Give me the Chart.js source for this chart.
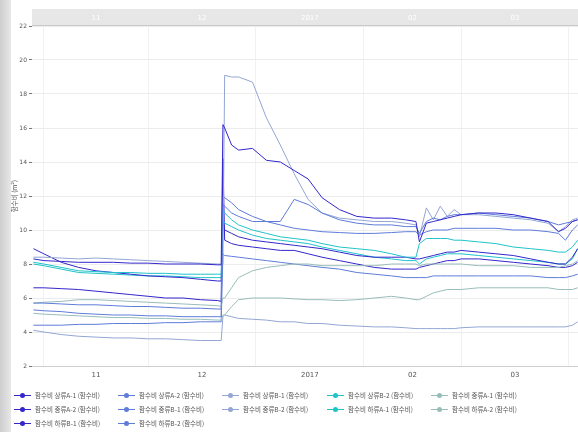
<!DOCTYPE html>
<html>
<head>
<meta charset="utf-8">
<script src="https://cdn.jsdelivr.net/npm/chart.js@4.4.0/dist/chart.umd.min.js"></script>
<style>
    body { margin: 0; background: #fff; }
    #wrap { position: relative; width: 578px; height: 432px; overflow: hidden; background: #fff; }
    #strip { position: absolute; left: 0; top: 0; width: 11px; height: 432px; background: linear-gradient(to right, #cdcdcd, #e8e8e8); }
    #chart { position: absolute; left: 0; top: 0; }
    #legend { position: absolute; left: 0; top: 0; width: 578px; height: 432px; font: 6.5px "Noto Sans CJK KR", sans-serif; color: #555; }
    .item { position: absolute; height: 10px; line-height: 10px; white-space: nowrap; }
    .mark { display: inline-block; position: relative; width: 17px; height: 10px; vertical-align: top; margin-right: 4px; }
    .mark i { position: absolute; left: 0; top: 4.5px; width: 17px; height: 1px; }
    .mark b { position: absolute; left: 6px; top: 2.5px; width: 5px; height: 5px; border-radius: 50%; }
</style>
</head>
<body>
<div id="wrap">
    <div id="strip"></div>
    <canvas id="chart" width="578" height="385"></canvas>
    <div id="legend"></div>
</div>
<script>
// == Data ==
// days counted from 1 Nov 2016
const days = [-3, 0, 5, 10, 15, 20, 25, 30, 35, 40, 45, 50, 51,
    51.5,
    52, 54, 56, 60, 64, 68, 72, 76, 80, 85, 90, 95, 100, 104, 107,
    108, 110, 112, 114, 116, 118, 120, 125, 130, 135, 140, 145, 148, 150, 152, 153.5];

const monthStarts = [0, 30, 61, 92, 120, 151];
const monthMids = [15, 45.5, 76.5, 106, 135.5];
const monthLabels = ["11", "12", "2017", "02", "03"];

const sangA1 = [8.3, 8.2, 8.15, 8.1, 8.1, 8.1, 8.05, 8.05, 8.0, 8.0, 8.0, 7.95, 7.95,
    16.2,
    16.0, 15.0, 14.7, 14.8, 14.1, 14.0, 13.5, 13.0, 11.9, 11.2, 10.8, 10.7, 10.7, 10.6, 10.5,
    9.3, 10.4, 10.5, 10.6, 10.7, 10.8, 10.9, 11.0, 11.0, 10.9, 10.7, 10.5, 9.9, 10.1, 10.5, 10.6];
const sangA2 = [5.7, 5.7, 5.65, 5.6, 5.6, 5.55, 5.5, 5.5, 5.45, 5.4, 5.4, 5.35, 5.35,
    11.5,
    11.4, 11.0, 10.8, 10.5, 10.5, 10.5, 11.8, 11.5, 11.0, 10.6, 10.4, 10.3, 10.3, 10.2, 10.2,
    9.8, 10.5, 10.7, 10.6, 10.8, 10.9, 10.9, 11.0, 10.9, 10.8, 10.7, 10.5, 10.3, 10.4, 10.5, 10.6];
const sangB1 = [8.4, 8.4, 8.35, 8.3, 8.35, 8.3, 8.25, 8.2, 8.15, 8.1, 8.05, 8.0, 8.0,
    8.0,
    19.1, 19.0, 19.0, 18.7, 16.6, 15.0, 13.3, 11.8, 11.0, 10.7, 10.6, 10.5, 10.5, 10.4, 10.3,
    9.6, 11.3, 10.6, 11.4, 10.8, 11.2, 10.9, 10.9, 10.8, 10.7, 10.6, 10.4, 9.9, 10.2, 10.6, 10.7];
const sangB2 = [8.1, 8.0, 7.8, 7.6, 7.55, 7.5, 7.5, 7.45, 7.45, 7.4, 7.4, 7.4, 7.4,
    11.2,
    11.0, 10.6, 10.3, 10.0, 9.8, 9.6, 9.5, 9.4, 9.2, 9.0, 8.9, 8.8, 8.6, 8.4, 8.4,
    9.2, 9.5, 9.5, 9.5, 9.5, 9.4, 9.4, 9.3, 9.2, 9.0, 8.9, 8.8, 8.7, 8.7, 9.0, 9.4];
const jungA1 = [5.7, 5.75, 5.8, 5.9, 5.9, 5.85, 5.8, 5.75, 5.7, 5.65, 5.6, 5.55, 5.5,
    6.0,
    6.0, 6.6, 7.2, 7.6, 7.8, 7.9, 8.0, 8.0, 7.9, 7.9, 7.9, 7.9, 8.0, 8.0, 8.0,
    7.9, 8.0, 8.0, 8.0, 8.0, 8.0, 8.0, 7.9, 7.9, 7.9, 7.8, 7.8, 7.8, 7.9, 8.0, 8.2];
const jungA2 = [8.9, 8.6, 8.1, 7.8, 7.6, 7.5, 7.4, 7.3, 7.25, 7.2, 7.1, 7.0, 7.0,
    10.5,
    10.0, 9.8, 9.6, 9.4, 9.3, 9.2, 9.1, 9.0, 8.9, 8.7, 8.5, 8.4, 8.4, 8.4, 8.3,
    8.3, 8.4, 8.5, 8.6, 8.7, 8.7, 8.8, 8.7, 8.6, 8.5, 8.3, 8.1, 8.0, 8.0, 8.4, 8.9];
const jungB1 = [5.3, 5.25, 5.2, 5.1, 5.05, 5.0, 5.0, 4.95, 4.95, 4.9, 4.9, 4.9, 4.9,
    12.0,
    11.9, 11.6, 11.2, 10.8, 10.5, 10.3, 10.1, 10.0, 9.9, 9.85, 9.8, 9.8, 9.85, 9.9, 9.9,
    9.7, 9.9, 10.0, 10.0, 10.0, 10.1, 10.1, 10.1, 10.1, 10.0, 10.0, 9.9, 9.8, 9.4, 10.0, 10.3];
const jungB2 = [4.1, 4.0, 3.85, 3.75, 3.7, 3.65, 3.65, 3.6, 3.6, 3.55, 3.5, 3.5, 3.5,
    4.9,
    5.0, 4.9, 4.8, 4.75, 4.7, 4.6, 4.6, 4.5, 4.5, 4.4, 4.35, 4.3, 4.3, 4.25, 4.2,
    4.2, 4.2, 4.2, 4.2, 4.2, 4.2, 4.25, 4.3, 4.3, 4.3, 4.3, 4.3, 4.3, 4.3, 4.4, 4.6];
const haA1 = [8.0, 7.9, 7.7, 7.5, 7.45, 7.4, 7.35, 7.3, 7.3, 7.25, 7.2, 7.2, 7.2,
    10.6,
    10.4, 10.2, 10.0, 9.7, 9.5, 9.4, 9.3, 9.2, 9.0, 8.8, 8.6, 8.4, 8.3, 8.2, 8.2,
    8.0, 8.3, 8.4, 8.5, 8.6, 8.6, 8.6, 8.5, 8.4, 8.3, 8.2, 8.1, 8.0, 8.0, 8.3, 8.9];
const haA2 = [5.1, 5.05, 5.0, 4.95, 4.9, 4.85, 4.85, 4.8, 4.8, 4.75, 4.75, 4.7, 4.7,
    5.0,
    5.0, 5.5, 5.9, 6.0, 6.0, 6.0, 5.95, 5.9, 5.9, 5.85, 5.9, 6.0, 6.1, 6.0, 5.9,
    5.9, 6.1, 6.3, 6.4, 6.5, 6.5, 6.5, 6.6, 6.6, 6.6, 6.6, 6.6, 6.5, 6.5, 6.5, 6.6];
const haB1 = [6.6, 6.6, 6.55, 6.5, 6.4, 6.3, 6.2, 6.1, 6.0, 6.0, 5.9, 5.85, 5.8,
    14.2,
    9.4, 9.2, 9.1, 9.0, 8.9, 8.8, 8.8, 8.6, 8.4, 8.2, 8.0, 7.8, 7.7, 7.7, 7.7,
    7.8, 7.9, 8.0, 8.1, 8.2, 8.2, 8.3, 8.3, 8.2, 8.1, 8.0, 7.9, 7.8, 7.8, 7.9, 8.1];
const haB2 = [4.4, 4.4, 4.4, 4.45, 4.45, 4.5, 4.5, 4.5, 4.55, 4.55, 4.6, 4.6, 4.6,
    8.6,
    8.5, 8.45, 8.4, 8.3, 8.2, 8.1, 8.0, 7.9, 7.8, 7.7, 7.5, 7.4, 7.3, 7.2, 7.2,
    7.2, 7.2, 7.3, 7.3, 7.3, 7.3, 7.3, 7.3, 7.3, 7.3, 7.3, 7.2, 7.2, 7.2, 7.3, 7.4];

const seriesNames = [
    "함수비 상류A-1 (함수비)", "함수비 상류A-2 (함수비)", "함수비 상류B-1 (함수비)", "함수비 상류B-2 (함수비)", "함수비 중류A-1 (함수비)",
    "함수비 중류A-2 (함수비)", "함수비 중류B-1 (함수비)", "함수비 중류B-2 (함수비)", "함수비 하류A-1 (함수비)", "함수비 하류A-2 (함수비)",
    "함수비 하류B-1 (함수비)", "함수비 하류B-2 (함수비)"
];
const seriesValues = [sangA1, sangA2, sangB1, sangB2, jungA1, jungA2, jungB1, jungB2, haA1, haA2, haB1, haB2];

// one colour per legend column
const columnColors = ["#3326cc", "#5f7cd9", "#93a6d4", "#1fc3ca", "#98bdb9"];

// == Chart ==
const bandPlugin = {
    id: 'band',
    beforeDraw(chart) {
        const { ctx, chartArea } = chart;
        ctx.save();
        ctx.fillStyle = '#e7e7e7';
        ctx.fillRect(chartArea.left, 9, chartArea.right - chartArea.left, chartArea.top - 9);
        ctx.fillStyle = '#c9c9c9';
        ctx.fillRect(chartArea.left, chartArea.top - 1, chartArea.right - chartArea.left, 1);
        ctx.restore();
    }
};

const datasets = seriesValues.map((vals, i) => ({
    label: seriesNames[i],
    data: vals.map((v, j) => ({ x: days[j], y: v })),
    borderColor: columnColors[i % 5],
    borderWidth: 1,
    pointRadius: 0,
    tension: 0
}));

const allTicks = monthStarts.concat(monthMids).sort((a, b) => a - b);

function monthLabel(value) {
    const i = monthMids.indexOf(value);
    return i >= 0 ? monthLabels[i] : '';
}

new Chart(document.getElementById('chart'), {
    type: 'line',
    data: { datasets },
    plugins: [bandPlugin],
    options: {
        responsive: false,
        animation: false,
        devicePixelRatio: 1,
        layout: { padding: { top: 9, right: 0, left: 0, bottom: 0 } },
        plugins: { legend: { display: false }, tooltip: { enabled: false } },
        scales: {
            x: {
                type: 'linear',
                position: 'bottom',
                min: -3.4,
                max: 153.6,
                afterBuildTicks: s => { s.ticks = allTicks.map(v => ({ value: v })); },
                afterFit: s => { s.height = 19; },
                ticks: {
                    autoSkip: false,
                    maxRotation: 0,
                    callback: v => monthLabel(v),
                    color: '#555',
                    font: { size: 7, family: 'DejaVu Sans' },
                    padding: 5
                },
                grid: {
                    color: c => monthStarts.includes(c.tick.value) ? '#f1f1f1' : 'rgba(0,0,0,0)',
                    drawTicks: false
                },
                border: { color: '#cfcfcf' }
            },
            xTop: {
                type: 'linear',
                position: 'top',
                min: -3.4,
                max: 153.6,
                afterBuildTicks: s => { s.ticks = monthMids.map(v => ({ value: v })); },
                afterFit: s => { s.height = 17; },
                ticks: {
                    autoSkip: false,
                    maxRotation: 0,
                    callback: v => monthLabel(v),
                    color: '#ffffff',
                    font: { size: 7, family: 'DejaVu Sans' },
                    padding: 4
                },
                grid: { display: false, drawTicks: false },
                border: { display: false }
            },
            y: {
                min: 2,
                max: 22,
                afterFit: s => { s.width = 32; },
                ticks: {
                    stepSize: 2,
                    color: '#555',
                    font: { size: 6, family: 'DejaVu Sans' },
                    padding: 2
                },
                grid: { color: '#ececec', tickColor: '#777', tickLength: 3 },
                border: { display: false },
                title: {
                    display: true,
                    text: '함수비 (m²)',
                    color: '#555',
                    font: { size: 6.5, family: 'Noto Sans CJK KR' },
                    padding: { top: 11, bottom: 0 }
                }
            }
        }
    }
});

// == Legend ==
const legendCols = [14, 118, 222, 327, 431];
const legendRows = [390, 404, 418];
document.getElementById('legend').innerHTML = seriesNames.map((name, i) => {
    const color = columnColors[i % 5];
    const left = legendCols[i % 5];
    const top = legendRows[Math.floor(i / 5)];
    return `<div class="item" style="left:${left}px;top:${top}px">` +
        `<span class="mark"><i style="background:${color}"></i><b style="background:${color}"></b></span>${name}</div>`;
}).join('');
</script>
</body>
</html>
